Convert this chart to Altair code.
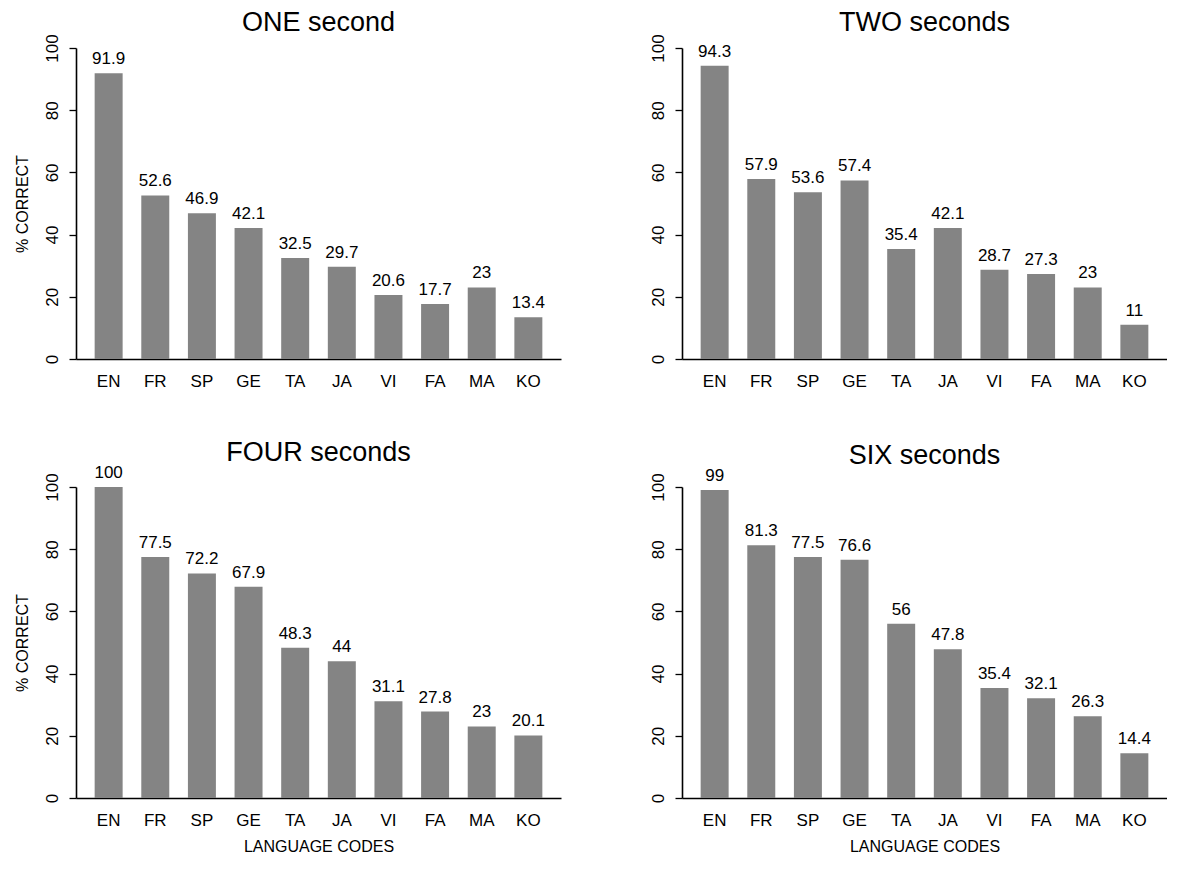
import altair as alt
import pandas as pd

codes = ["EN", "FR", "SP", "GE", "TA", "JA", "VI", "FA", "MA", "KO"]
one_sec = [91.9, 52.6, 46.9, 42.1, 32.5, 29.7, 20.6, 17.7, 23, 13.4]
two_sec = [94.3, 57.9, 53.6, 57.4, 35.4, 42.1, 28.7, 27.3, 23, 11]
four_sec = [100, 77.5, 72.2, 67.9, 48.3, 44, 31.1, 27.8, 23, 20.1]
six_sec = [99, 81.3, 77.5, 76.6, 56, 47.8, 35.4, 32.1, 26.3, 14.4]
titles = ["ONE second", "TWO seconds", "FOUR seconds", "SIX seconds"]
y_ticks = [0, 20, 40, 60, 80, 100]

FONT = "Liberation Sans"
W, H = 485, 311


def panel(vals, title, show_ytitle, show_xtitle):
    df = pd.DataFrame({"code": codes, "pct": vals, "label": [f"{v:g}" for v in vals]})
    xaxis = alt.Axis(
        labelAngle=0, ticks=False, labelPadding=14, labelFontSize=17, labelFont=FONT,
        labelColor="black", domainColor="black", domainWidth=1.6,
        title="LANGUAGE CODES" if show_xtitle else None,
        titleFont=FONT, titleFontSize=16, titleFontWeight="normal", titleColor="black",
        titlePadding=10,
    )
    yaxis = alt.Axis(
        values=y_ticks, labelAngle=270, labelAlign="center", labelBaseline="bottom",
        labelFontSize=17, labelFont=FONT, labelColor="black", labelPadding=8,
        tickSize=7, tickColor="black", tickWidth=1.3, domainColor="black", domainWidth=1.6,
        grid=False,
        title="% CORRECT" if show_ytitle else None,
        titleFont=FONT, titleFontSize=16, titleFontWeight="normal", titleColor="black",
        titlePadding=13,
    )
    x = alt.X("code:N", sort=codes, scale=alt.Scale(paddingInner=0.4, paddingOuter=0.4), axis=xaxis)
    y = alt.Y("pct:Q", scale=alt.Scale(domain=[0, 100], nice=False), axis=yaxis)
    base = alt.Chart(df)
    bars = base.mark_bar(color="#848484").encode(x=x, y=y)
    text = base.mark_text(baseline="bottom", dy=-5, fontSize=17, font=FONT, color="black").encode(
        x=alt.X("code:N", sort=codes), y=alt.Y("pct:Q"), text="label:N"
    )
    return alt.layer(bars, text).properties(
        width=W, height=H,
        title=alt.TitleParams(title, fontSize=27, font=FONT, fontWeight="normal", color="black", offset=-3),
    )


p1 = panel(one_sec, titles[0], True, False)
p2 = panel(two_sec, titles[1], False, False)
p3 = panel(four_sec, titles[2], True, True)
p4 = panel(six_sec, titles[3], False, True)

chart = alt.concat(
    p1, p2, p3, p4, columns=2, spacing={"row": 128, "column": 121}, bounds="flush",
).properties(
    padding={"left": 6, "top": 0, "right": 0, "bottom": 0},
    background="white",
).configure_view(stroke=None)

chart.save("out.html", embed_options={"renderer": "svg", "actions": False})
